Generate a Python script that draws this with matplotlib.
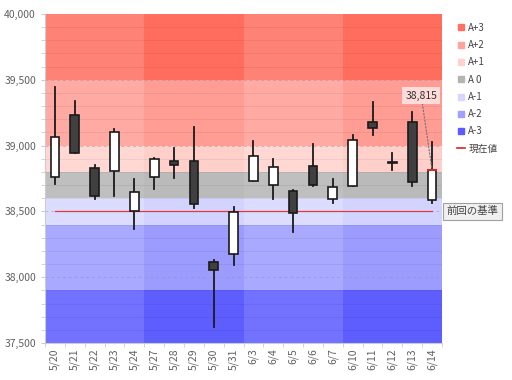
import matplotlib
matplotlib.use("Agg")
import matplotlib.pyplot as plt
from matplotlib.lines import Line2D
from matplotlib.transforms import blended_transform_factory

plt.rcParams['font.family'] = ['Noto Sans CJK JP', 'DejaVu Sans']

# data
dates = ['5/20', '5/21', '5/22', '5/23', '5/24', '5/27', '5/28', '5/29', '5/30', '5/31',
         '6/3', '6/4', '6/5', '6/6', '6/7', '6/10', '6/11', '6/12', '6/13', '6/14']
opens = [38759, 39235, 38827, 38804, 38505, 38763, 38883, 38885, 38113, 38174,
         38733, 38703, 38655, 38845, 38594, 38691, 39177, 38873, 39181, 38586]
highs = [39443, 39341, 38852, 39126, 38744, 38905, 38982, 39139, 38130, 38531,
         39032, 38896, 38660, 39012, 38746, 39080, 39334, 38946, 39253, 39025]
lows = [38706, 38940, 38594, 38619, 38366, 38670, 38756, 38523, 37619, 38090,
        38730, 38592, 38346, 38693, 38566, 38690, 39078, 38812, 38693, 38561]
closes = [39068, 38946, 38617, 39101, 38647, 38900, 38855, 38556, 38054, 38493,
          38923, 38840, 38488, 38700, 38688, 39042, 39136, 38873, 38721, 38815]

band_names = ['A+3', 'A+2', 'A+1', 'A 0', 'A-1', 'A-2', 'A-3']
band_lo = [39500, 39000, 38800, 38600, 38400, 37900, 37500]
band_hi = [40000, 39500, 39000, 38800, 38600, 38400, 37900]
band_light = ['#ff8276', '#ffaba3', '#ffd8d4', '#bfbfbf', '#dcdcff', '#a9a9ff', '#7272ff']
band_dark = ['#ff6d5e', '#ff9c93', '#ffcfca', '#bababa', '#d3d3ff', '#9c9cff', '#5e5eff']
legend_colors = ['#ff7060', '#ffa39b', '#ffd2ce', '#b4b4b4', '#d6d6ff', '#a0a0ff', '#5a5aff']

prev_base = 38500
current = 38815

fig = plt.figure(figsize=(5.12, 3.8), dpi=100)
ax = fig.add_axes([45 / 512, 37 / 380, 397 / 512, 329 / 380])

n = len(dates)
for lo, hi, cl, cd in zip(band_lo, band_hi, band_light, band_dark):
    ax.axhspan(lo, hi, color=cl, lw=0, zorder=0)
    # every second week is a little deeper
    for w0 in (5, 15):
        ax.fill_between([w0 - 0.5, w0 + 4.5], lo, hi, color=cd, lw=0, zorder=0.5)

for v in range(37600, 40000, 100):
    if v % 500 == 0:
        ax.axhline(v, color='#9090b0', lw=0.7, ls=(0, (3, 3)), alpha=0.5, zorder=1)
    else:
        ax.axhline(v, color='black', lw=0.6, alpha=0.07, zorder=1)

ax.plot([0, n - 1], [prev_base, prev_base], color='#e03a3a', lw=0.9, zorder=2)

w = 0.44
for i in range(n):
    o, h, l, c = opens[i], highs[i], lows[i], closes[i]
    ax.plot([i, i], [l, h], color='#1a1a1a', lw=1.3, zorder=3)
    bottom, top = min(o, c), max(o, c)
    fill = 'white' if c >= o else '#404040'
    height = max(top - bottom, 12)
    ax.bar(i, height, bottom=(bottom + top) / 2 - height / 2, width=w, color=fill,
           edgecolor='#1a1a1a', lw=1.2, zorder=4)

ax.plot([n - 1 - w / 2, n - 1 + w / 2], [current, current], color='#e02020', lw=1.4, zorder=5)
ax.annotate(f'{current:,}', xy=(n - 1, current), xytext=(n - 1.55, 39380),
            ha='center', va='center', fontsize=7.5, color='#333333',
            bbox=dict(boxstyle='square,pad=0.3', fc='#ffe8e6', ec='none', alpha=0.85),
            arrowprops=dict(arrowstyle='-', color='#777777', ls=':', lw=0.9,
                            shrinkA=0, shrinkB=0), zorder=6)

trans = blended_transform_factory(ax.transAxes, ax.transData)
ax.text(1.012, prev_base, '前回の基準', transform=trans, ha='left', va='center',
        fontsize=7.5, color='#444444',
        bbox=dict(boxstyle='square,pad=0.35', fc='#f0f0f0', ec='#a0a0a0', lw=0.8))

ax.set_xlim(-0.5, n - 0.5)
ax.set_ylim(37500, 40000)
ax.set_xticks(range(n))
ax.set_xticklabels(dates, rotation=90, fontsize=7.5, color='#606060')
ax.set_xticks([i - 0.5 for i in range(n + 1)], minor=True)
ax.tick_params(axis='x', which='major', length=0, pad=4)
ax.tick_params(axis='x', which='minor', length=3, color='#cccccc')
ax.set_yticks(range(37500, 40001, 500))
ax.set_yticklabels([f'{v:,}' for v in range(37500, 40001, 500)], fontsize=7.5, color='#606060')
ax.set_yticks(range(37500, 40001, 100), minor=True)
ax.tick_params(axis='y', which='both', length=3, color='#cccccc')
for s in ('top', 'right'):
    ax.spines[s].set_visible(False)
for s in ('left', 'bottom'):
    ax.spines[s].set_color('#cccccc')

handles = [Line2D([], [], marker='s', ls='none', color=c, markersize=5) for c in legend_colors]
handles.append(Line2D([], [], color='#e02020', lw=1.2))
fig.legend(handles, band_names + ['現在値'], loc='upper left', bbox_to_anchor=(448 / 512, 1 - 14 / 380),
           frameon=False, fontsize=7, handlelength=0.8, handletextpad=0.4, labelspacing=0.75,
           labelcolor='#444444')

fig.savefig('out.png', dpi=100)
